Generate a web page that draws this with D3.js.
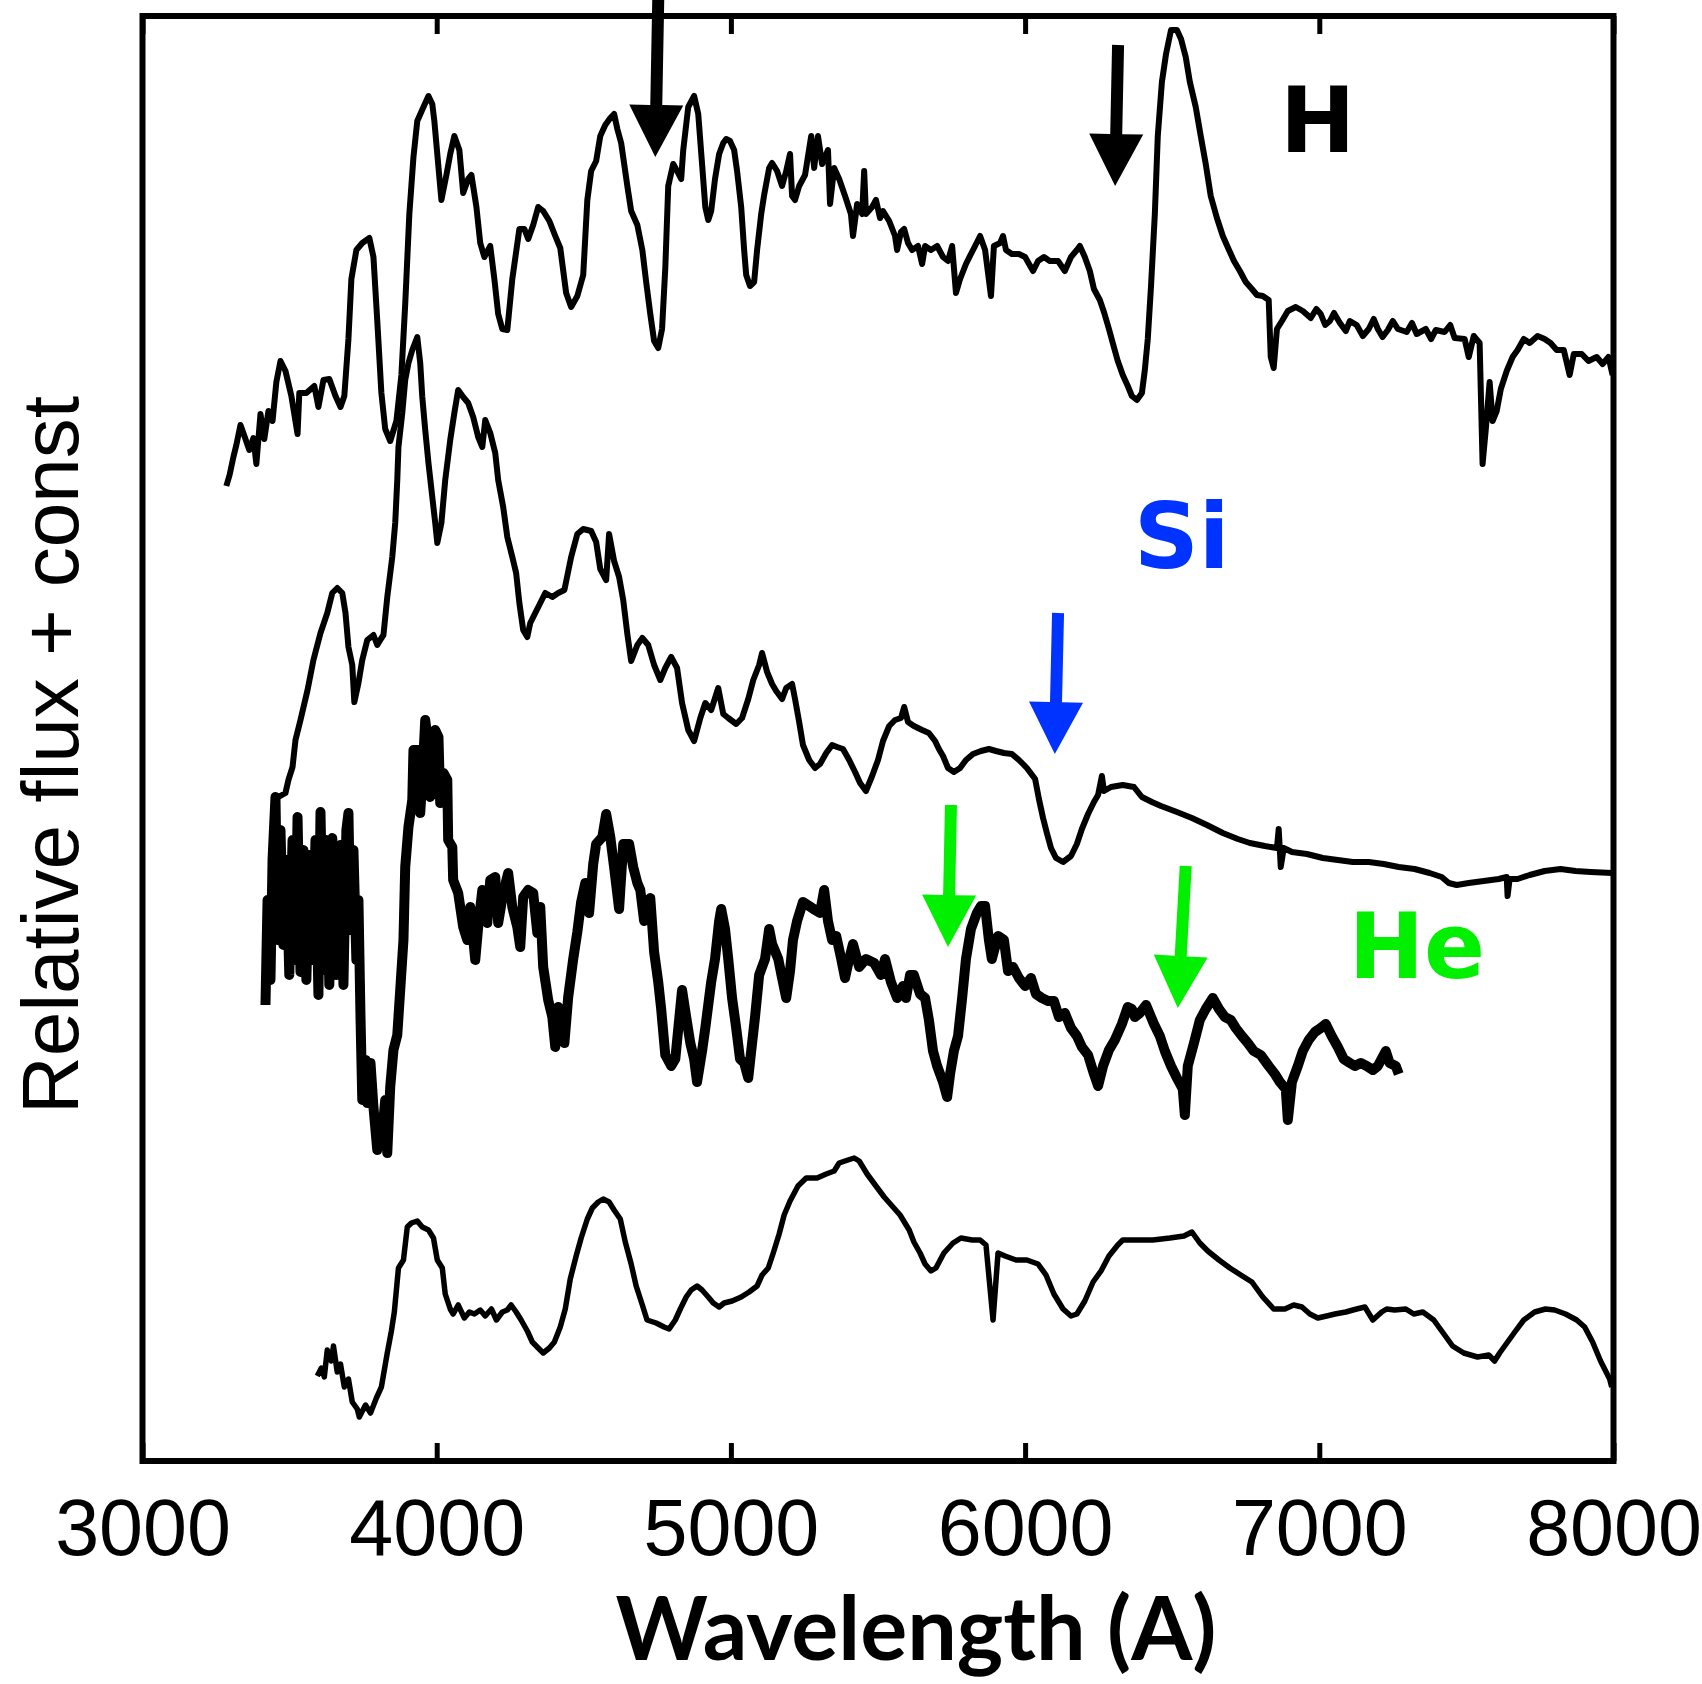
<!DOCTYPE html>
<html>
<head>
<meta charset="utf-8">
<script src="https://cdn.jsdelivr.net/npm/d3@7"></script>
<style>
  html, body { margin: 0; padding: 0; background: #ffffff; }
</style>
</head>
<body>
<div id="chart"></div>
<script>
/////////////////////////////////////////////////////////
//////////////////////// Data ///////////////////////////
/////////////////////////////////////////////////////////

// wavelength tick marks (Angstrom)
const waveTicks = [3000, 4000, 5000, 6000, 7000, 8000];

// spectra as [wavelength (A), relative flux + const]
// top: hydrogen rich
const specH = [[3285,9.75],[3296,9.86],[3309,10.04],[3319,10.16],[3333,10.36],[3350,10.22],[3363,10.11],[3377,10.23],[3387,9.97],[3401,10.47],[3414,10.22],[3428,10.50],[3442,10.40],[3455,10.79],[3469,11.00],[3486,10.90],[3506,10.65],[3527,10.27],[3533,10.68],[3557,10.68],[3584,10.75],[3598,10.54],[3615,10.81],[3635,10.82],[3656,10.65],[3673,10.54],[3686,10.65],[3700,11.22],[3710,11.82],[3727,12.11],[3747,12.18],[3771,12.23],[3785,12.04],[3798,11.40],[3812,10.68],[3825,10.32],[3842,10.20],[3863,10.40],[3880,10.86],[3893,11.57],[3907,12.47],[3921,13.04],[3934,13.40],[3955,13.54],[3972,13.65],[3985,13.57],[3992,13.40],[4002,13.07],[4016,12.61],[4033,12.86],[4046,13.07],[4060,13.25],[4077,13.11],[4090,12.68],[4107,12.82],[4118,12.86],[4135,12.54],[4148,12.18],[4162,12.04],[4182,12.15],[4196,11.82],[4209,11.47],[4223,11.32],[4240,11.31],[4257,11.82],[4281,12.32],[4298,12.32],[4311,12.22],[4328,12.36],[4345,12.54],[4362,12.50],[4383,12.40],[4403,12.25],[4420,12.13],[4440,11.68],[4457,11.54],[4478,11.65],[4498,11.86],[4512,12.61],[4525,12.90],[4542,13.00],[4556,13.25],[4573,13.36],[4590,13.43],[4603,13.47],[4614,13.32],[4627,13.18],[4648,12.75],[4661,12.50],[4682,12.36],[4699,12.11],[4712,11.79],[4726,11.47],[4739,11.20],[4753,11.13],[4766,11.32],[4777,11.93],[4787,12.75],[4804,12.97],[4817,12.90],[4831,12.82],[4838,13.11],[4855,13.54],[4875,13.65],[4889,13.47],[4902,12.97],[4913,12.54],[4923,12.41],[4933,12.50],[4946,12.82],[4960,13.07],[4974,13.18],[4984,13.22],[4997,13.20],[5011,13.11],[5021,12.90],[5035,12.54],[5045,12.11],[5052,11.86],[5065,11.75],[5079,11.79],[5089,12.11],[5103,12.47],[5113,12.66],[5130,12.93],[5140,12.98],[5157,12.90],[5174,12.75],[5188,12.90],[5201,13.07],[5208,12.65],[5218,12.61],[5232,12.75],[5252,12.86],[5273,13.25],[5283,12.93],[5296,13.25],[5310,12.97],[5330,13.11],[5337,12.57],[5351,12.93],[5368,12.82],[5388,12.65],[5408,12.47],[5415,12.25],[5429,12.57],[5446,12.47],[5453,12.90],[5459,12.47],[5480,12.54],[5493,12.61],[5507,12.43],[5517,12.50],[5538,12.40],[5558,12.25],[5565,12.11],[5578,12.29],[5589,12.32],[5602,12.18],[5616,12.11],[5636,12.15],[5650,11.97],[5660,12.15],[5680,12.11],[5701,12.15],[5721,12.04],[5738,12.00],[5752,12.15],[5765,11.68],[5779,11.82],[5799,11.97],[5816,12.07],[5830,12.15],[5847,12.25],[5864,12.11],[5884,11.65],[5894,12.15],[5915,12.18],[5925,12.25],[5935,12.11],[5955,12.07],[5979,12.07],[6000,12.04],[6027,11.90],[6044,12.00],[6064,12.04],[6084,12.00],[6112,12.00],[6135,11.90],[6156,12.04],[6176,12.11],[6186,12.15],[6203,12.04],[6220,11.90],[6234,11.72],[6254,11.61],[6268,11.49],[6285,11.32],[6298,11.18],[6315,11.00],[6332,10.86],[6349,10.75],[6363,10.65],[6380,10.61],[6397,10.68],[6407,10.91],[6417,11.22],[6428,11.75],[6441,12.47],[6451,13.25],[6465,13.79],[6479,14.07],[6496,14.31],[6516,14.31],[6530,14.22],[6546,14.04],[6560,13.79],[6580,13.54],[6597,13.25],[6614,12.97],[6631,12.65],[6652,12.43],[6672,12.25],[6693,12.11],[6710,12.00],[6730,11.90],[6750,11.79],[6771,11.72],[6788,11.66],[6808,11.65],[6828,11.61],[6835,11.04],[6845,10.93],[6856,11.32],[6873,11.40],[6893,11.50],[6920,11.54],[6944,11.50],[6971,11.43],[6990,11.52],[7005,11.47],[7020,11.36],[7036,11.40],[7050,11.48],[7070,11.38],[7090,11.30],[7104,11.40],[7127,11.36],[7148,11.25],[7168,11.32],[7185,11.42],[7199,11.32],[7215,11.24],[7233,11.31],[7250,11.40],[7267,11.32],[7297,11.29],[7315,11.38],[7331,11.27],[7362,11.32],[7380,11.22],[7396,11.31],[7426,11.29],[7445,11.36],[7460,11.23],[7494,11.22],[7508,11.04],[7525,11.25],[7545,11.18],[7555,9.97],[7566,10.32],[7579,10.79],[7589,10.40],[7603,10.50],[7617,10.72],[7637,10.90],[7657,11.04],[7674,11.11],[7695,11.22],[7715,11.18],[7742,11.25],[7766,11.22],[7786,11.18],[7807,11.11],[7831,11.11],[7851,10.86],[7865,11.07],[7892,11.07],[7915,11.00],[7943,11.04],[7963,10.97],[7983,11.04],[7997,10.86]];

// second: silicon feature
const specSi = [[3462,6.64],[3486,6.68],[3496,6.81],[3510,6.94],[3520,7.21],[3537,7.41],[3561,7.71],[3581,8.01],[3605,8.28],[3628,8.48],[3645,8.68],[3662,8.73],[3679,8.68],[3690,8.48],[3700,8.14],[3713,7.96],[3720,7.59],[3734,7.78],[3747,8.01],[3764,8.21],[3785,8.26],[3798,8.16],[3808,8.21],[3819,8.26],[3832,8.64],[3849,9.04],[3859,9.38],[3866,9.81],[3870,10.14],[3883,10.48],[3893,10.81],[3904,10.98],[3917,11.11],[3934,11.24],[3944,10.98],[3951,10.64],[3961,10.31],[3972,9.98],[3985,9.64],[3995,9.38],[4002,9.18],[4016,9.38],[4029,9.81],[4046,10.21],[4060,10.48],[4073,10.71],[4090,10.64],[4107,10.58],[4124,10.44],[4141,10.24],[4155,10.14],[4165,10.41],[4182,10.28],[4199,10.08],[4209,9.81],[4226,9.54],[4240,9.24],[4257,9.04],[4270,8.88],[4281,8.58],[4294,8.31],[4308,8.24],[4318,8.38],[4335,8.48],[4352,8.58],[4369,8.68],[4393,8.64],[4413,8.68],[4434,8.71],[4457,9.04],[4478,9.27],[4498,9.32],[4525,9.30],[4542,9.19],[4556,8.92],[4576,8.81],[4586,9.27],[4603,9.00],[4620,8.84],[4634,8.61],[4648,8.27],[4661,8.00],[4682,8.16],[4699,8.23],[4719,8.16],[4739,7.96],[4760,7.81],[4777,7.93],[4797,8.04],[4817,7.93],[4834,7.58],[4855,7.31],[4875,7.20],[4896,7.43],[4913,7.58],[4933,7.51],[4957,7.73],[4974,7.47],[4991,7.43],[5018,7.37],[5038,7.43],[5059,7.62],[5076,7.81],[5096,7.96],[5106,8.08],[5123,7.89],[5140,7.77],[5154,7.70],[5174,7.62],[5188,7.73],[5208,7.77],[5218,7.62],[5232,7.39],[5245,7.16],[5266,7.01],[5286,6.93],[5303,6.97],[5324,7.08],[5344,7.16],[5361,7.14],[5381,7.12],[5402,7.01],[5422,6.89],[5439,6.78],[5459,6.70],[5480,6.85],[5500,7.01],[5517,7.20],[5538,7.35],[5558,7.41],[5578,7.43],[5589,7.54],[5602,7.39],[5622,7.35],[5650,7.31],[5673,7.28],[5694,7.20],[5707,7.12],[5721,7.05],[5738,6.93],[5758,6.89],[5779,6.93],[5799,7.01],[5823,7.07],[5850,7.10],[5877,7.12],[5901,7.10],[5928,7.08],[5955,7.07],[5979,7.01],[6006,6.93],[6034,6.82],[6047,6.62],[6061,6.43],[6074,6.28],[6088,6.13],[6105,6.03],[6129,5.99],[6156,6.05],[6176,6.17],[6193,6.32],[6214,6.47],[6234,6.59],[6248,6.66],[6261,6.85],[6268,6.70],[6292,6.74],[6332,6.76],[6370,6.74],[6397,6.64],[6431,6.59],[6462,6.55],[6516,6.49],[6567,6.43],[6618,6.36],[6672,6.28],[6723,6.22],[6764,6.18],[6815,6.15],[6856,6.13],[6862,6.32],[6869,5.94],[6879,6.13],[6907,6.09],[6958,6.07],[7012,6.03],[7063,6.01],[7114,5.99],[7168,5.99],[7219,5.97],[7270,5.94],[7324,5.92],[7375,5.88],[7416,5.84],[7440,5.78],[7467,5.76],[7508,5.78],[7559,5.80],[7610,5.82],[7637,5.84],[7640,5.65],[7647,5.82],[7674,5.82],[7715,5.86],[7766,5.90],[7820,5.92],[7871,5.90],[7922,5.89],[7997,5.88]];

// third: helium lines, noisy
const specHe = [[3418,4.56],[3425,5.61],[3435,4.81],[3442,6.01],[3452,6.64],[3459,5.21],[3469,6.31],[3479,5.16],[3489,6.01],[3499,4.86],[3510,6.21],[3520,5.01],[3527,6.44],[3537,4.89],[3547,6.11],[3557,4.81],[3567,6.06],[3577,5.01],[3588,6.21],[3598,4.66],[3605,6.49],[3615,4.91],[3625,6.21],[3635,4.76],[3645,6.23],[3659,4.86],[3673,6.16],[3683,4.76],[3693,6.31],[3700,6.48],[3707,5.31],[3717,6.11],[3727,5.01],[3734,5.61],[3741,4.44],[3747,3.61],[3758,4.01],[3764,3.58],[3775,3.98],[3785,3.54],[3798,3.11],[3808,3.41],[3815,3.28],[3825,3.61],[3832,3.08],[3842,3.74],[3853,4.11],[3866,4.26],[3876,4.71],[3887,5.21],[3893,5.94],[3904,6.34],[3917,6.61],[3921,7.11],[3938,7.11],[3944,6.48],[3951,6.81],[3961,7.41],[3972,7.14],[3978,6.64],[3989,6.71],[3995,7.31],[4006,7.24],[4012,6.58],[4023,6.88],[4036,6.81],[4039,6.21],[4053,6.14],[4056,5.81],[4073,5.68],[4090,5.34],[4104,5.21],[4114,5.54],[4131,5.01],[4141,5.34],[4155,5.71],[4172,5.38],[4182,5.81],[4199,5.84],[4209,5.38],[4226,5.68],[4243,5.88],[4257,5.54],[4274,5.34],[4284,5.14],[4294,5.64],[4311,5.71],[4328,5.68],[4342,5.28],[4352,5.54],[4362,4.94],[4379,4.61],[4393,4.44],[4403,4.14],[4413,4.54],[4420,4.48],[4434,4.18],[4447,4.64],[4464,5.02],[4478,5.29],[4491,5.59],[4505,5.78],[4518,5.48],[4532,5.97],[4542,6.17],[4563,6.24],[4576,6.47],[4590,6.24],[4603,5.94],[4620,5.52],[4634,6.17],[4654,6.17],[4668,5.94],[4682,5.78],[4692,5.71],[4705,5.40],[4726,5.63],[4739,5.09],[4753,4.79],[4763,4.52],[4777,4.06],[4797,3.95],[4811,4.02],[4824,4.41],[4834,4.71],[4848,4.44],[4862,4.18],[4875,4.02],[4885,3.79],[4902,4.10],[4913,4.33],[4933,4.79],[4946,5.02],[4960,5.40],[4967,5.52],[4980,5.32],[4991,5.02],[5004,4.63],[5018,4.33],[5031,4.02],[5045,3.98],[5059,3.83],[5069,4.10],[5082,4.44],[5096,4.86],[5116,5.02],[5130,5.32],[5140,5.17],[5161,5.02],[5174,4.83],[5188,4.63],[5201,4.90],[5211,5.21],[5225,5.40],[5245,5.59],[5266,5.55],[5286,5.51],[5303,5.48],[5317,5.71],[5330,5.40],[5344,5.21],[5358,5.25],[5375,5.02],[5388,4.83],[5402,5.02],[5415,5.17],[5436,4.94],[5459,5.02],[5487,4.98],[5510,4.86],[5524,5.02],[5544,4.79],[5565,4.63],[5585,4.75],[5595,4.63],[5609,4.86],[5622,4.86],[5643,4.67],[5660,4.63],[5673,4.41],[5687,4.10],[5701,3.95],[5721,3.79],[5735,3.64],[5745,3.87],[5758,4.10],[5772,4.25],[5786,4.63],[5799,5.02],[5816,5.32],[5836,5.48],[5850,5.55],[5864,5.55],[5877,5.21],[5887,5.02],[5908,5.25],[5928,5.21],[5942,4.90],[5959,4.94],[5979,4.83],[6000,4.75],[6020,4.83],[6037,4.67],[6057,4.63],[6078,4.60],[6098,4.60],[6115,4.44],[6135,4.48],[6156,4.33],[6176,4.25],[6193,4.14],[6214,4.06],[6234,3.87],[6248,3.75],[6265,3.95],[6285,4.11],[6305,4.21],[6329,4.37],[6349,4.54],[6363,4.52],[6373,4.44],[6390,4.48],[6411,4.56],[6438,4.37],[6458,4.25],[6475,4.10],[6496,3.95],[6516,3.83],[6536,3.72],[6543,3.46],[6553,3.95],[6574,4.18],[6594,4.41],[6614,4.52],[6638,4.63],[6659,4.52],[6679,4.44],[6699,4.41],[6716,4.33],[6737,4.25],[6757,4.18],[6777,4.10],[6801,4.06],[6828,3.95],[6849,3.87],[6866,3.79],[6886,3.72],[6893,3.41],[6907,3.79],[6927,3.95],[6944,4.10],[6964,4.21],[6985,4.29],[7005,4.33],[7022,4.37],[7042,4.25],[7063,4.14],[7083,4.02],[7104,3.98],[7121,3.95],[7141,3.98],[7161,3.95],[7182,3.91],[7199,3.95],[7226,4.10],[7239,3.98],[7260,3.95],[7270,3.87]];

// bottom
const specLow = [[3594,0.85],[3608,0.93],[3618,0.84],[3628,1.11],[3642,1.00],[3649,1.15],[3662,0.89],[3673,0.97],[3686,0.74],[3700,0.82],[3713,0.59],[3730,0.52],[3737,0.44],[3758,0.56],[3775,0.48],[3795,0.63],[3812,0.74],[3832,1.08],[3846,1.30],[3856,1.49],[3870,1.93],[3887,2.01],[3900,2.34],[3914,2.38],[3934,2.40],[3951,2.34],[3972,2.31],[3989,2.23],[4002,2.01],[4019,1.93],[4029,1.67],[4046,1.52],[4056,1.47],[4073,1.56],[4094,1.43],[4111,1.49],[4128,1.47],[4148,1.51],[4165,1.45],[4186,1.52],[4203,1.41],[4223,1.49],[4240,1.51],[4253,1.56],[4270,1.49],[4287,1.41],[4308,1.30],[4325,1.19],[4345,1.13],[4362,1.08],[4383,1.13],[4400,1.19],[4420,1.34],[4437,1.52],[4454,1.82],[4474,2.05],[4491,2.23],[4512,2.42],[4529,2.53],[4549,2.59],[4566,2.62],[4586,2.59],[4603,2.51],[4624,2.42],[4641,2.19],[4661,1.97],[4678,1.75],[4699,1.56],[4715,1.41],[4746,1.38],[4773,1.34],[4790,1.32],[4811,1.41],[4828,1.52],[4848,1.64],[4865,1.71],[4885,1.75],[4902,1.71],[4923,1.64],[4940,1.58],[4960,1.54],[4977,1.58],[5004,1.60],[5035,1.64],[5062,1.69],[5089,1.75],[5106,1.86],[5127,1.93],[5144,2.08],[5164,2.27],[5181,2.46],[5201,2.60],[5228,2.75],[5256,2.83],[5293,2.83],[5324,2.87],[5351,2.90],[5368,2.98],[5398,3.01],[5419,3.03],[5436,3.00],[5463,2.87],[5493,2.75],[5521,2.64],[5548,2.55],[5575,2.46],[5606,2.31],[5622,2.19],[5643,2.08],[5660,1.97],[5680,1.90],[5697,1.93],[5724,2.08],[5755,2.18],[5782,2.23],[5820,2.21],[5847,2.21],[5867,2.16],[5891,1.41],[5908,2.08],[5932,2.05],[5969,2.01],[6006,2.01],[6044,1.97],[6071,1.86],[6098,1.67],[6129,1.52],[6156,1.45],[6176,1.47],[6203,1.60],[6231,1.79],[6258,1.90],[6285,2.05],[6315,2.16],[6332,2.21],[6380,2.21],[6434,2.21],[6492,2.23],[6540,2.25],[6567,2.29],[6594,2.18],[6621,2.10],[6659,2.01],[6696,1.93],[6733,1.86],[6771,1.79],[6808,1.64],[6845,1.52],[6883,1.52],[6913,1.56],[6941,1.54],[6968,1.47],[6995,1.43],[7025,1.45],[7053,1.47],[7090,1.49],[7127,1.52],[7155,1.54],[7182,1.41],[7212,1.49],[7229,1.52],[7256,1.51],[7294,1.52],[7321,1.47],[7352,1.49],[7389,1.41],[7426,1.26],[7453,1.15],[7491,1.08],[7538,1.04],[7576,1.06],[7596,1.00],[7613,1.08],[7640,1.19],[7667,1.30],[7695,1.41],[7732,1.49],[7769,1.52],[7800,1.51],[7837,1.47],[7875,1.41],[7902,1.34],[7929,1.19],[7956,1.00],[7987,0.82],[7994,0.74]];

// line markers: [tail wave, tail flux, tip wave, tip flux]
const markerArrows = [[4753,14.61,4743,13.04],[6316,14.16,6306,12.75],[6112,8.48,6101,7.07],[5748,6.56,5738,5.14],[6546,5.95,6519,4.53]];
const markerIons = ["H", "H", "Si", "He", "He"];

// ion labels: [text, wave, flux]
const ionLabels = [["H",6866,13.09],["Si",6370,8.93],["He",7100,4.83]];

/////////////////////////////////////////////////////////
/////////////////////// Drawing /////////////////////////
/////////////////////////////////////////////////////////

var cfg = {
  w: 1702,
  h: 1684,
  left: 142.5, right: 1613.5, top: 16, bottom: 1461,
  ionColor: {H: "#000000", Si: "#0033ff", He: "#00f000"},
  shaftW: 12, headW: 54, headLen: 52
};

var svg = d3.select("#chart")
  .append("svg")
  .attr("width", cfg.w)
  .attr("height", cfg.h);

var x = d3.scaleLinear()
  .domain([3000, 8000])
  .range([cfg.left, cfg.right]);

var y = d3.scaleLinear()
  .domain([0, 14.45])
  .range([cfg.bottom, cfg.top]);

// bottom axis with inward ticks
var xAxis = svg.append("g")
  .attr("transform", "translate(0," + cfg.bottom + ")")
  .call(d3.axisBottom(x).tickValues(waveTicks).tickSizeInner(-18).tickSizeOuter(0).tickFormat(d3.format("d")));
xAxis.select(".domain").remove();
xAxis.selectAll("line").attr("stroke", "#000").attr("stroke-width", 5);
xAxis.selectAll("text")
  .attr("y", 94)
  .attr("dy", null)
  .attr("fill", "#000")
  .style("font-family", "'Liberation Sans', Arial, sans-serif")
  .style("font-size", "79px");

// top axis, ticks only
var xTop = svg.append("g")
  .attr("transform", "translate(0," + cfg.top + ")")
  .call(d3.axisTop(x).tickValues(waveTicks).tickSizeInner(-18).tickSizeOuter(0).tickFormat(""));
xTop.select(".domain").remove();
xTop.selectAll("line").attr("stroke", "#000").attr("stroke-width", 5);

// frame
svg.append("rect")
  .attr("x", x(3000))
  .attr("y", y(14.45))
  .attr("width", x(8000) - x(3000))
  .attr("height", y(0) - y(14.45))
  .attr("fill", "none")
  .attr("stroke", "#000")
  .attr("stroke-width", 6);

// spectra
var line = d3.line()
  .x(function(d) { return x(d[0]); })
  .y(function(d) { return y(d[1]); });

[[specH, 6], [specSi, 6], [specHe, 10], [specLow, 5.5]].forEach(function(s) {
  svg.append("path")
    .datum(s[0])
    .attr("d", line)
    .attr("fill", "none")
    .attr("stroke", "#000")
    .attr("stroke-width", s[1])
    .attr("stroke-linejoin", "round");
});

// arrows marking the absorption lines
function arrowShape(a) {
  var x0 = x(a[0]), y0 = y(a[1]), x1 = x(a[2]), y1 = y(a[3]);
  var len = Math.hypot(x1 - x0, y1 - y0);
  var ux = (x1 - x0) / len, uy = (y1 - y0) / len;
  var nx = -uy, ny = ux;
  var bx = x1 - ux * cfg.headLen, by = y1 - uy * cfg.headLen;
  var hw = cfg.shaftW / 2, HW = cfg.headW / 2;
  return [
    [x0 + nx * hw, y0 + ny * hw],
    [bx + nx * hw, by + ny * hw],
    [bx + nx * HW, by + ny * HW],
    [x1, y1],
    [bx - nx * HW, by - ny * HW],
    [bx - nx * hw, by - ny * hw],
    [x0 - nx * hw, y0 - ny * hw]
  ];
}

svg.append("g")
  .selectAll("polygon")
  .data(markerArrows)
  .enter()
  .append("polygon")
  .attr("points", function(d) { return arrowShape(d).map(function(p) { return p.join(","); }).join(" "); })
  .attr("fill", function(d, i) { return cfg.ionColor[markerIons[i]]; });

// ion labels
svg.append("g")
  .selectAll("text")
  .data(ionLabels)
  .enter()
  .append("text")
  .attr("x", function(d) { return x(d[1]); })
  .attr("y", function(d) { return y(d[2]); })
  .text(function(d) { return d[0]; })
  .attr("fill", function(d) { return cfg.ionColor[d[0]]; })
  .style("font-family", "'DejaVu Sans', sans-serif")
  .style("font-weight", "bold")
  .style("font-size", "90px");

// axis titles
svg.append("text")
  .attr("x", 916)
  .attr("y", 1660)
  .attr("text-anchor", "middle")
  .text("Wavelength (A)")
  .style("font-family", "Lato, 'Open Sans', sans-serif")
  .style("font-weight", "bold")
  .style("font-size", "88px");

svg.append("text")
  .attr("transform", "translate(78,755) rotate(-90)")
  .attr("text-anchor", "middle")
  .text("Relative flux + const")
  .style("font-family", "'Liberation Sans', Arial, sans-serif")
  .style("font-size", "80px");
</script>
</body>
</html>
